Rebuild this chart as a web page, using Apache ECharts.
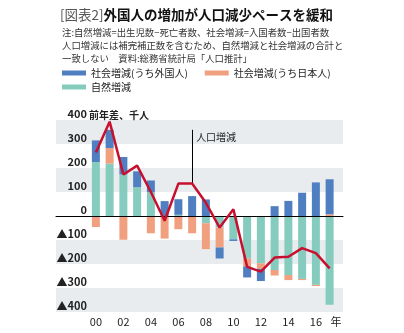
<!DOCTYPE html>
<html>
<head>
<meta charset="utf-8">
<script src="https://cdn.jsdelivr.net/npm/echarts@6/dist/echarts.min.js"></script>
<style>html,body{margin:0;padding:0;background:#fff}#c{width:404px;height:333px}</style>
</head>
<body>
<div id="c"></div>
<script>
var years = ['00','01','02','03','04','05','06','07','08','09','10','11','12','13','14','15','16','17'];
var natural = [225, 218, 173, 120, 99, 0, 5, 0, -30, -48, -97, -177, -197, -225, -246, -262, -287, -370];
var socialJapanese = [-46, 65, -99, 0, -72, -94, -55, -72, -108, -83, 0, -33, -23, -23, -21, -5, -5, 7];
var socialForeign = [90, 76, 73, 66, 49, 62, 65, 83, 69, -46, -7, -46, -51, 41, 63, 97, 140, 146];
var popChange = [265, 393, 173, 210, 100, -20, 135, 135, 55, -48, 28, -212, -232, -173, -170, -134, -155, -218];
var yTicks = [-400, -300, -200, -100, 0, 100, 200, 300, 400];
var bands = [[300, 400], [100, 200], [-200, -100], [-400, -300]];
var annotYear = '07';
var annotTop = 359;
var annotLabelVal = 330;

var FONT = '"Noto Sans CJK JP", "Noto Sans", sans-serif';
var chart = echarts.init(document.getElementById('c'), null, {renderer: 'canvas'});
var names = ['社会増減(うち外国人)', '社会増減(うち日本人)', '自然増減'];
var colors = {foreign: '#4f7fc0', japanese: '#f0a07f', natural: '#86ccbe'};

chart.setOption({
  animation: false,
  textStyle: {fontFamily: FONT},
  title: [
    {
      left: 55, top: 3,
      text: '{a|[図表2]}{b|外国人の増加が人口減少ペースを緩和}',
      textStyle: {
        rich: {
          a: {fontFamily: FONT, fontSize: 13.5, color: '#555', fontWeight: 'normal'},
          b: {fontFamily: FONT, fontSize: 13.5, color: '#111', fontWeight: 'bold'}
        }
      }
    },
    {
      left: 57, top: 21,
      text: '注:自然増減=出生児数−死亡者数、社会増減=入国者数−出国者数\n人口増減には補完補正数を含むため、自然増減と社会増減の合計と\n一致しない　資料:総務省統計局「人口推計」',
      textStyle: {fontFamily: FONT, fontSize: 9.4, lineHeight: 13, color: '#333', fontWeight: 'normal'}
    }
  ],
  legend: [
    {
      left: 57, top: 63, itemWidth: 24, itemHeight: 5, itemGap: 17, icon: 'rect',
      data: [names[0], names[1]],
      textStyle: {fontFamily: FONT, fontSize: 10, color: '#222'}
    },
    {
      left: 57, top: 77, itemWidth: 24, itemHeight: 5, icon: 'rect',
      data: [names[2]],
      textStyle: {fontFamily: FONT, fontSize: 10, color: '#222'}
    }
  ],
  grid: [
    {left: 89, right: 67.5, top: 120, bottom: 21},
    {left: 56, right: 61, top: 120, bottom: 21}
  ],
  xAxis: [
    {
      type: 'category', gridIndex: 0, data: years, z: 10,
      axisLine: {show: false, onZero: false}, axisTick: {show: false},
      axisLabel: {interval: 1, margin: 4, fontFamily: FONT, fontSize: 11, color: '#222'},
      name: '年', nameLocation: 'end', nameGap: -6,
      nameTextStyle: {fontFamily: FONT, fontSize: 11, color: '#222', verticalAlign: 'top', padding: [4, 0, 0, 0]}
    },
    {
      type: 'value', gridIndex: 1, min: 0, max: 1, z: 5,
      axisLine: {show: true, onZero: true, lineStyle: {color: '#000', width: 1}},
      axisTick: {show: false}, axisLabel: {show: false}, splitLine: {show: false}
    }
  ],
  yAxis: [
    {
      type: 'value', gridIndex: 0, min: -400, max: 400, interval: 100, z: 10,
      axisLine: {show: false}, axisTick: {show: false}, splitLine: {show: false},
      axisLabel: {
        margin: 2, fontFamily: FONT, fontSize: 11, fontWeight: 'bold', color: '#222',
        verticalAlign: 'bottom', lineHeight: 12, hideOverlap: false,
        showMinLabel: true, showMaxLabel: true,
        formatter: function (v) { return yTicks.indexOf(v) < 0 ? '' : (v < 0 ? '▲' + (-v) : String(v)); }
      },
      name: '前年差、千人', nameLocation: 'end', nameGap: 5, nameMoveOverlap: false,
      nameTextStyle: {fontFamily: FONT, fontSize: 10, fontWeight: 'bold', color: '#222', align: 'left', verticalAlign: 'middle'}
    },
    {
      type: 'value', gridIndex: 1, min: -400, max: 400, interval: 100, show: false
    }
  ],
  series: [
    {
      type: 'line', xAxisIndex: 1, yAxisIndex: 1, data: [[0, 0]], symbol: 'none',
      lineStyle: {opacity: 0}, silent: true, z: 0,
      markArea: {
        silent: true,
        itemStyle: {color: '#e9ecef'},
        data: bands.map(function (b) { return [{yAxis: b[0]}, {yAxis: b[1]}]; })
      }
    },
    {name: names[2], type: 'bar', stack: 'a', barWidth: 8, data: natural, itemStyle: {color: colors.natural}, z: 2},
    {name: names[1], type: 'bar', stack: 'a', barWidth: 8, data: socialJapanese, itemStyle: {color: colors.japanese}, z: 2},
    {name: names[0], type: 'bar', stack: 'a', barWidth: 8, data: socialForeign, itemStyle: {color: colors.foreign}, z: 2},
    {
      name: '人口増減', type: 'line', data: popChange, symbol: 'none', z: 6,
      lineStyle: {color: '#c8102e', width: 2.5},
      markLine: {
        silent: true, symbol: 'none',
        lineStyle: {color: '#000', width: 1, type: 'solid'},
        label: {show: false},
        data: [[{coord: [annotYear, popChange[years.indexOf(annotYear)]]}, {coord: [annotYear, annotTop]}]]
      },
      markPoint: {
        silent: true, symbolSize: 0,
        label: {show: true, position: 'right', distance: 4, formatter: '人口増減', fontFamily: FONT, fontSize: 10, color: '#222'},
        data: [{coord: [annotYear, annotLabelVal]}]
      }
    }
  ]
});
</script>
</body>
</html>
